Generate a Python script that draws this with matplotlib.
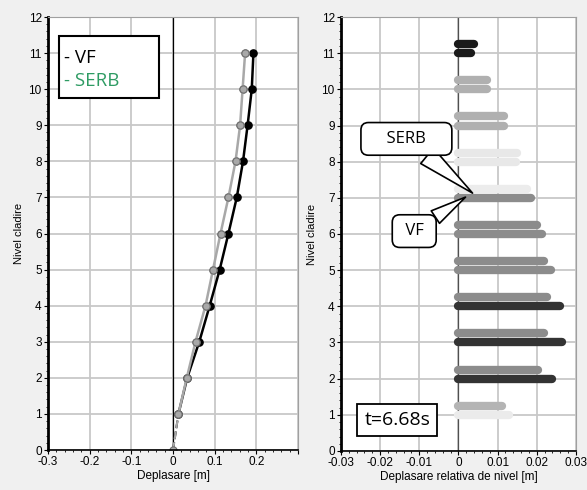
import numpy as np
import matplotlib.pyplot as plt
from matplotlib.ticker import MultipleLocator

plt.rcParams['font.family'] = ['Liberation Sans', 'DejaVu Sans']

# --- data ---
levels = [0, 1, 2, 3, 4, 5, 6, 7, 8, 9, 10, 11]
vf_disp = [0.0, 0.013, 0.034, 0.063, 0.088, 0.112, 0.133, 0.153, 0.168, 0.179, 0.189, 0.193]
serb_disp = [0.0, 0.013, 0.033, 0.054, 0.078, 0.096, 0.114, 0.133, 0.150, 0.161, 0.167, 0.173]

drift_levels = [1, 2, 3, 4, 5, 6, 7, 8, 9, 10, 11]
vf_drift = [0.0128, 0.0240, 0.0264, 0.0258, 0.0236, 0.0213, 0.0185, 0.0148, 0.0116, 0.0072, 0.0033]
serb_drift = [0.0112, 0.0202, 0.0219, 0.0225, 0.0219, 0.0200, 0.0174, 0.0150, 0.0116, 0.0074, 0.0040]

# grey shades of the bars (as seen in picture)
vf_cols = ['#ebebeb', '#333333', '#333333', '#333333', '#8c8c8c', '#8c8c8c',
           '#8c8c8c', '#e8e8e8', '#b0b0b0', '#b0b0b0', '#1a1a1a']
serb_cols = ['#b4b4b4', '#8c8c8c', '#8c8c8c', '#8c8c8c', '#8c8c8c', '#8c8c8c',
             '#ececec', '#e8e8e8', '#b0b0b0', '#b0b0b0', '#1a1a1a']

fig = plt.figure(figsize=(5.87, 4.90), dpi=100, facecolor='#f0f0f0')
ax = fig.add_axes([0.0818, 0.0816, 0.4259, 0.8837])
ax2 = fig.add_axes([0.5809, 0.0796, 0.4003, 0.8857])


def style_axes(a):
    a.set_facecolor('white')
    a.grid(True, which='major', color='#c8c8c8', lw=1.3)
    a.set_axisbelow(True)
    for s in ['top', 'right']:
        a.spines[s].set_color('#a0a0a0')
        a.spines[s].set_linewidth(0.8)
    a.spines['left'].set_linewidth(2.0)
    a.spines['bottom'].set_linewidth(1.2)
    a.set_ylim(0, 12)
    a.yaxis.set_major_locator(MultipleLocator(1))
    a.yaxis.set_minor_locator(MultipleLocator(0.2))
    a.tick_params(which='major', direction='out', length=3, width=0.8,
                  labelsize=8.5, colors='#000000', pad=1.5)
    a.tick_params(which='minor', direction='out', length=1.5, width=0.6)
    a.set_ylabel('Nivel cladire', fontsize=8, labelpad=3)


# left panel
style_axes(ax)
ax.set_xlim(-0.3, 0.3)
ax.set_xticks([-0.3, -0.2, -0.1, 0, 0.1, 0.2, 0.3])
ax.set_xticklabels(['-0.3', '-0.2', '-0.1', '0', '0.1', '0.2', ''])
ax.xaxis.set_minor_locator(MultipleLocator(0.02))
ax.set_xlabel('Deplasare [m]', fontsize=8.5, labelpad=1)
ax.axvline(0, color='black', lw=0.9)

ax.plot(vf_disp[:2], levels[:2], color='black', lw=1.5, ls='--')
ax.plot(vf_disp[1:], levels[1:], color='black', lw=1.8,
        marker='o', ms=5.2, mfc='black', mec='black')
ax.plot(serb_disp[:2], levels[:2], color='#a8a8a8', lw=1.5, ls='--')
ax.plot(serb_disp, levels, color='#a8a8a8', lw=1.8, ls='none',
        marker='o', ms=5.2, mfc='#a8a8a8', mec='#6e6e6e', mew=0.8)
ax.plot(serb_disp[1:], levels[1:], color='#a8a8a8', lw=1.8,
        marker='o', ms=5.2, mfc='#a8a8a8', mec='#6e6e6e', mew=0.8)

ax.add_patch(plt.Rectangle((0.044, 0.813), 0.40, 0.143, transform=ax.transAxes,
                           fc='white', ec='black', lw=1.5, zorder=5))
ax.text(0.064, 0.906, '- VF', transform=ax.transAxes, fontsize=13.5,
        family='Open Sans', color='black', va='center', zorder=6)
ax.text(0.064, 0.852, '- SERB', transform=ax.transAxes, fontsize=13.5,
        family='Open Sans', color='#2e9b63', va='center', zorder=6)

# right panel
style_axes(ax2)
ax2.set_xlim(-0.03, 0.03)
ax2.set_xticks([-0.03, -0.02, -0.01, 0, 0.01, 0.02, 0.03])
ax2.set_xticklabels(['-0.03', '-0.02', '-0.01', '0', '0.01', '0.02', '0.03'])
ax2.xaxis.set_minor_locator(MultipleLocator(0.002))
ax2.set_xlabel('Deplasare relativa de nivel [m]', fontsize=8.5, labelpad=1)
ax2.axvline(0, color='#505050', lw=0.9)

for lv, v, c in zip(drift_levels, vf_drift, vf_cols):
    ax2.plot([0, v], [lv, lv], color=c, lw=6, solid_capstyle='round')
for lv, v, c in zip(drift_levels, serb_drift, serb_cols):
    ax2.plot([0, v], [lv + 0.25, lv + 0.25], color=c, lw=6, solid_capstyle='round')

ax2.annotate('    SERB    ', xy=(0.0036, 7.13), xytext=(-0.0133, 8.63), fontsize=12,
             family='Open Sans', ha='center', va='center', zorder=7,
             bbox=dict(boxstyle='round,pad=0.5,rounding_size=0.45', fc='white', ec='black', lw=1.2),
             arrowprops=dict(arrowstyle='wedge,tail_width=1.2', fc='white', ec='black', lw=1.2,
                             shrinkA=0, shrinkB=0))
ax2.annotate(' VF ', xy=(0.0018, 7.02), xytext=(-0.0113, 6.08), fontsize=12,
             family='Open Sans', ha='center', va='center', zorder=7,
             bbox=dict(boxstyle='round,pad=0.5,rounding_size=0.45', fc='white', ec='black', lw=1.2),
             arrowprops=dict(arrowstyle='wedge,tail_width=0.9', fc='white', ec='black', lw=1.2,
                             shrinkA=0, shrinkB=0))

ax2.text(-0.0156, 0.857, 't=6.68s', fontsize=14, family='Open Sans',
         ha='center', va='center',
         bbox=dict(boxstyle='square,pad=0.36', fc='white', ec='black', lw=1.3))

fig.savefig('out.png', dpi=100, facecolor=fig.get_facecolor())
